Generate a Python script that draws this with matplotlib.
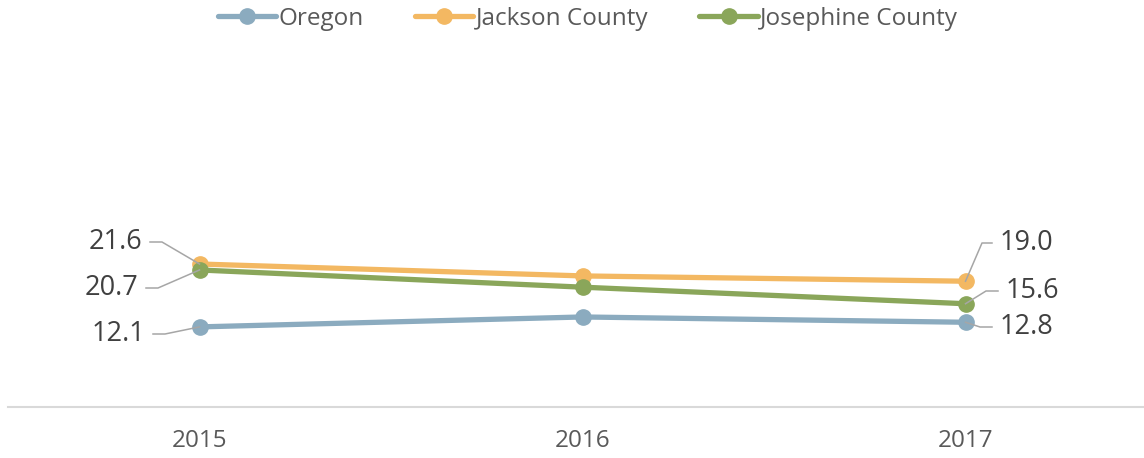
import matplotlib
matplotlib.use("Agg")
import matplotlib.pyplot as plt

years = ["2015", "2016", "2017"]
oregon = [12.1, 13.6, 12.8]
jackson = [21.6, 19.8, 19.0]
josephine = [20.7, 18.1, 15.6]

series = [
    ("Oregon", oregon, "#8BABBF"),
    ("Jackson County", jackson, "#F3B862"),
    ("Josephine County", josephine, "#8AA65A"),
]

plt.rcParams["font.family"] = ["Open Sans", "DejaVu Sans"]

W, H = 1144, 458
fig = plt.figure(figsize=(W / 100, H / 100), dpi=100)
ax = fig.add_axes([8 / W, (H - 407) / H, (1144 - 8) / W, 331 / H])

x = list(range(len(years)))
for name, vals, col in series:
    ax.plot(x, vals, color=col, lw=3.8, marker="o", markersize=11,
            solid_capstyle="round", label=name)

ax.set_xlim(-0.5, 2.466)
ax.set_ylim(0, 50)
ax.set_xticks(x)
ax.set_xticklabels(years, fontsize=17.5, color="#595959")
ax.tick_params(axis="x", length=0, pad=16)
ax.set_yticks([])
for s in ["top", "left", "right"]:
    ax.spines[s].set_visible(False)
ax.spines["bottom"].set_color("#D9D9D9")
ax.spines["bottom"].set_linewidth(1.5)

lead = "#A6A6A6"
LBL = 19.5


def elbow(xi, v, tx, ty, kx, side, text):
    # leader from the marker to a knee, then horizontal to the label
    p0 = ax.transData.transform((xi, v))
    pts = [(p0[0], p0[1]), (kx, H - ty), (tx, H - ty)]
    xs = [p[0] / W for p in pts]
    ys = [p[1] / H for p in pts]
    fig.add_artist(plt.Line2D(xs, ys, color=lead, lw=1.1, transform=fig.transFigure))
    if side == "left":
        fig.text((tx - 8) / W, (H - ty) / H, text, ha="right", va="center",
                 fontsize=LBL, color="#404040")
    else:
        fig.text((tx + 8) / W, (H - ty) / H, text, ha="left", va="center",
                 fontsize=LBL, color="#404040")


fig.canvas.draw()
# 2015 labels (left side)
elbow(0, jackson[0], 150, 242, 162, "left", f"{jackson[0]:.1f}")
elbow(0, josephine[0], 146, 288, 158, "left", f"{josephine[0]:.1f}")
elbow(0, oregon[0], 153, 334, 165, "left", f"{oregon[0]:.1f}")
# 2017 labels (right side)
elbow(2, jackson[2], 992, 243, 982, "right", f"{jackson[2]:.1f}")
elbow(2, josephine[2], 998, 291, 986, "right", f"{josephine[2]:.1f}")
elbow(2, oregon[2], 992, 327, 980, "right", f"{oregon[2]:.1f}")

leg = fig.legend(loc="center", bbox_to_anchor=(0.514, 1 - 19 / H), ncol=3,
                 frameon=False, fontsize=17.5, handlelength=2.4, handletextpad=0.1,
                 columnspacing=2.1, labelcolor="#595959")

fig.savefig("out.png", dpi=100)
